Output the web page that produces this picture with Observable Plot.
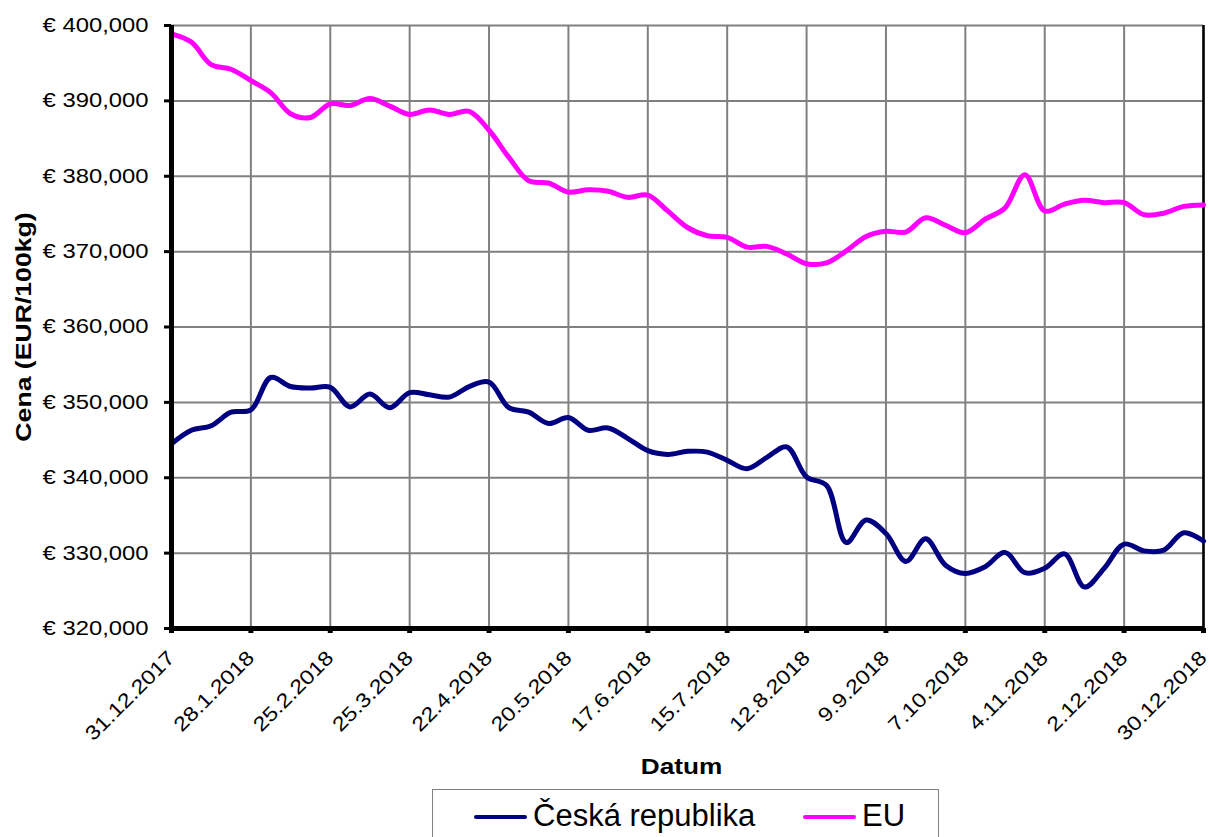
<!DOCTYPE html>
<html>
<head>
<meta charset="utf-8">
<script src="https://cdn.jsdelivr.net/npm/d3@7"></script>
<script src="https://cdn.jsdelivr.net/npm/@observablehq/plot@0.6"></script>
<style>
  html, body { margin: 0; padding: 0; background: #fff; }
  body { width: 1209px; height: 837px; overflow: hidden; position: relative; font-family: "Liberation Sans", Arial, sans-serif; }
  #topbar { position: absolute; left: 422px; top: 0; width: 408px; height: 4px; background: #000; }
  #chart { position: absolute; left: 0; top: 0; }
  #legend { position: absolute; left: 432px; top: 789px; width: 507px; height: 60px; border: 1px solid #808080; box-sizing: border-box; }
  .item { position: absolute; top: 8px; font-size: 31px; color: #000; line-height: 36px; white-space: nowrap; }
  .sw { display: inline-block; width: 53px; height: 4px; border-radius: 2px; vertical-align: middle; margin-right: 6px; position: relative; top: -1px; }
</style>
</head>
<body>
<div id="topbar"></div>
<div id="chart"></div>
<div id="legend"></div>
<script>
const dates = ["2017-12-31","2018-01-07","2018-01-14","2018-01-21","2018-01-28","2018-02-04","2018-02-11","2018-02-18","2018-02-25","2018-03-04","2018-03-11","2018-03-18","2018-03-25","2018-04-01","2018-04-08","2018-04-15","2018-04-22","2018-04-29","2018-05-06","2018-05-13","2018-05-20","2018-05-27","2018-06-03","2018-06-10","2018-06-17","2018-06-24","2018-07-01","2018-07-08","2018-07-15","2018-07-22","2018-07-29","2018-08-05","2018-08-12","2018-08-19","2018-08-26","2018-09-02","2018-09-09","2018-09-16","2018-09-23","2018-09-30","2018-10-07","2018-10-14","2018-10-21","2018-10-28","2018-11-04","2018-11-11","2018-11-18","2018-11-25","2018-12-02","2018-12-09","2018-12-16","2018-12-23","2018-12-30"];
const czValues = [344.5,346.3,346.9,348.7,349.0,353.3,352.1,351.9,352.0,349.4,351.1,349.3,351.3,351.0,350.7,352.1,352.7,349.3,348.7,347.2,348.0,346.3,346.6,345.2,343.6,343.1,343.5,343.4,342.3,341.2,342.7,344.1,340.1,339.0,331.4,334.4,332.6,328.9,331.9,328.4,327.3,328.2,330.1,327.4,328.0,329.9,325.5,328.0,331.2,330.3,330.4,332.7,331.6];
const euValues = [398.9,397.8,394.8,394.2,392.7,391.1,388.3,387.8,389.6,389.4,390.3,389.3,388.2,388.8,388.2,388.6,386.1,382.5,379.4,379.1,377.9,378.2,378.0,377.2,377.5,375.4,373.2,372.1,371.9,370.6,370.7,369.7,368.4,368.5,370.1,372.0,372.7,372.6,374.5,373.5,372.5,374.3,375.8,380.2,375.4,376.3,376.8,376.5,376.5,374.9,375.1,376.0,376.2];
const xTickLabels = ["31.12.2017","28.1.2018","25.2.2018","25.3.2018","22.4.2018","20.5.2018","17.6.2018","15.7.2018","12.8.2018","9.9.2018","7.10.2018","4.11.2018","2.12.2018","30.12.2018"];
const yTicks = [320,330,340,350,360,370,380,390,400];
const seriesNames = ["Česká republika","EU"];
const seriesColors = ["#000080","#FF00FF"];

const parseLabel = s => { const [d,m,y] = s.split(".").map(Number); return new Date(Date.UTC(y, m-1, d)); };
const xTicks = xTickLabels.map(parseLabel);
const fmtDate = d => `${d.getUTCDate()}.${d.getUTCMonth()+1}.${d.getUTCFullYear()}`;
const fmtY = v => "€ " + v.toFixed(3).replace(".", ",");

const rows = [];
dates.forEach((d,i) => {
  rows.push({date: new Date(d + "T00:00:00Z"), value: czValues[i], series: seriesNames[0]});
  rows.push({date: new Date(d + "T00:00:00Z"), value: euValues[i], series: seriesNames[1]});
});
const xStart = xTicks[0], xEnd = xTicks[xTicks.length-1];

const plot = Plot.plot({
  width: 1209,
  height: 785,
  marginLeft: 171,
  marginRight: 6,
  marginTop: 25,
  marginBottom: 157,
  style: {fontFamily: "'Liberation Sans', Arial, sans-serif", color: "#000", background: "#fff"},
  x: {type: "utc", domain: [xStart, xEnd]},
  y: {domain: [320, 400]},
  color: {domain: seriesNames, range: seriesColors},
  marks: [
    Plot.gridX(xTicks, {stroke: "#808080", strokeWidth: 2, strokeOpacity: 1}),
    Plot.gridY(yTicks, {stroke: "#808080", strokeWidth: 2, strokeOpacity: 1}),
    Plot.ruleX([xEnd], {stroke: "#000", strokeWidth: 2.5}),
    Plot.lineY(rows, {x: "date", y: "value", z: "series", stroke: "series", strokeWidth: 5, curve: "catmull-rom"}),
    Plot.ruleX([xStart], {stroke: "#000", strokeWidth: 5}),
    Plot.ruleY([320], {stroke: "#000", strokeWidth: 5}),
    Plot.axisY(yTicks, {tickFormat: fmtY, tickSize: 7, tickPadding: 16, strokeWidth: 3, fontSize: 20,
      label: "Cena (EUR/100kg)", labelAnchor: "center", labelOffset: 156, labelArrow: false}),
    Plot.axisX(xTicks, {tickFormat: fmtDate, tickSize: 5, strokeWidth: 5, tickRotate: -45, tickPadding: 21, fontSize: 20,
      label: "Datum", labelAnchor: "center", labelOffset: 145, labelArrow: false})
  ]
});
document.getElementById("chart").appendChild(plot);

// widen text horizontally to match the stretched look of the original
function stretch(sel, factor, bold, size, dx) {
  plot.querySelectorAll(sel).forEach(t => {
    if (bold) t.setAttribute("font-weight", "bold");
    if (size) t.setAttribute("font-size", size);
    if (dx) t.setAttribute("dx", dx);
    const len = t.getComputedTextLength();
    t.setAttribute("textLength", (len * factor).toFixed(1));
    t.setAttribute("lengthAdjust", "spacingAndGlyphs");
  });
}
stretch('g[aria-label="y-axis tick label"] text', 1.19);
stretch('g[aria-label="x-axis tick label"] text', 1.17);
stretch('g[aria-label="y-axis label"] text', 1.21, true, 22);
stretch('g[aria-label="x-axis label"] text', 1.19, true, 22, -6);

// legend
const legend = document.getElementById("legend");
const positions = [41, 370];
seriesNames.forEach((name, i) => {
  const it = document.createElement("div");
  it.className = "item";
  it.style.left = positions[i] + "px";
  const sw = document.createElement("span");
  sw.className = "sw";
  sw.style.background = seriesColors[i];
  it.appendChild(sw);
  it.appendChild(document.createTextNode(name));
  legend.appendChild(it);
});
</script>
</body>
</html>
